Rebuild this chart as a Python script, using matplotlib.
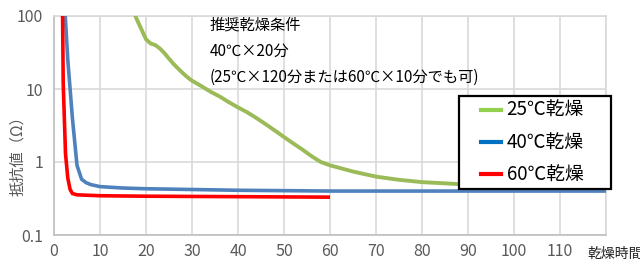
import matplotlib
matplotlib.use('Agg')
import matplotlib.pyplot as plt
from matplotlib.lines import Line2D
from matplotlib.patches import Rectangle

plt.rcParams['font.family'] = ['Noto Sans CJK JP', 'DejaVu Sans']

# drying time (min) and resistance (ohm)
t25 = [17, 18, 20, 21, 22, 23, 24, 25, 26, 27, 28, 29, 30, 32, 34, 36, 38, 40, 42, 44,
       46, 48, 50, 52, 54, 56, 58, 60, 65, 70, 75, 80, 85, 90, 100, 110, 120]
r25 = [130, 90, 48, 42, 40, 36, 31, 26, 22, 19, 16.5, 14.5, 13, 11, 9.2, 7.9, 6.6, 5.6, 4.8, 4.0,
       3.3, 2.7, 2.2, 1.8, 1.48, 1.2, 1.0, 0.9, 0.74, 0.63, 0.57, 0.53, 0.51, 0.49, 0.46, 0.44, 0.43]

t40 = [2, 3, 4, 5, 6, 7, 8, 10, 15, 20, 30, 40, 60, 90, 120]
r40 = [300, 25, 4, 0.9, 0.58, 0.52, 0.49, 0.46, 0.44, 0.43, 0.42, 0.41, 0.40, 0.40, 0.40]

t60 = [1.8, 2, 2.5, 3, 3.5, 4, 5, 10, 20, 40, 60]
r60 = [300, 12, 1.3, 0.6, 0.42, 0.37, 0.355, 0.345, 0.34, 0.335, 0.33]

series = ['25℃乾燥', '40℃乾燥', '60℃乾燥']
line_colors = ['#9bbb59', '#4f81bd', '#ff0000']
legend_colors = ['#92d050', '#0070c0', '#ff0000']

xticks = list(range(0, 121, 10))
xlabels = [str(v) for v in xticks[:-1]] + ['']
yticks = [0.1, 1, 10, 100]
ylabels = ['0.1', '1', '10', '100']

W, H = 640, 264
fig = plt.figure(figsize=(6.4, 2.64), dpi=100)
ax = fig.add_axes([54 / W, 29 / H, 552 / W, 219 / H])

ax.plot(t25, r25, color=line_colors[0], lw=2.8, solid_capstyle='butt', zorder=3)
ax.plot(t40, r40, color=line_colors[1], lw=2.6, solid_capstyle='butt', zorder=4)
ax.plot(t60, r60, color=line_colors[2], lw=2.6, solid_capstyle='butt', zorder=5)

ax.set_yscale('log')
ax.set_xlim(0, 120)
ax.set_ylim(0.1, 100)
ax.set_xticks(xticks)
ax.set_xticklabels(xlabels)
ax.set_yticks(yticks)
ax.set_yticklabels(ylabels)
ax.minorticks_off()
ax.tick_params(length=0, labelsize=11.5, labelcolor='#595959')
ax.tick_params(axis='x', pad=6)
ax.tick_params(axis='y', pad=8)
ax.grid(True, color='#d9d9d9', lw=1.2)
ax.set_axisbelow(True)
for side in ['top', 'right']:
    ax.spines[side].set_color('#d9d9d9')
    ax.spines[side].set_linewidth(1.2)
for side in ['left', 'bottom']:
    ax.spines[side].set_color('#bfbfbf')
    ax.spines[side].set_linewidth(1.2)

fig.text(18 / W, 1 - 152 / H, '抵抗値（Ω）', rotation=90, ha='center', va='center',
         fontsize=11, color='#595959')
fig.text(587 / W, 1 - 253 / H, '乾燥時間(分)', ha='left', va='center',
         fontsize=10, color='#222222')

notes = ['推奨乾燥条件', '40℃×20分', '(25℃×120分または60℃×10分でも可)']
for i, s in enumerate(notes):
    fig.text(210 / W, 1 - (25 + i * 26) / H, s, ha='left', va='center',
             fontsize=11, color='black')

# legend box drawn by hand so its size matches the reference
box = Rectangle((459 / W, 1 - 189 / H), 152 / W, 93 / H, transform=fig.transFigure,
                facecolor='white', edgecolor='black', lw=1.6, zorder=9)
fig.patches.append(box)

handles = [Line2D([0], [0], color=c, lw=3) for c in legend_colors]
leg = fig.legend(handles, series, loc='center left', bbox_to_anchor=(481 / W, 1 - 143 / H),
                 fontsize=13.5, frameon=False, handlelength=1.07,
                 handletextpad=0.3, labelspacing=0.6, borderpad=0, borderaxespad=0)
leg.set_zorder(10)

fig.savefig('out.png', dpi=100)
